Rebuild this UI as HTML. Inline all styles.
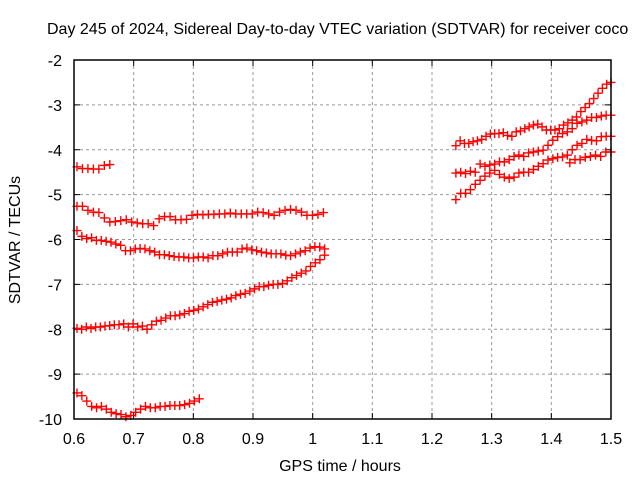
<!DOCTYPE html>
<html><head><meta charset="utf-8"><style>
body{margin:0;background:#fff;overflow:hidden;}
svg{display:block;font-family:"Liberation Sans",sans-serif;}
</style></head><body>
<svg id="chart" width="640" height="480" viewBox="0 0 640 480">
<rect width="640" height="480" fill="#fff"/>
<text x="47" y="34" font-size="16" text-anchor="start" fill="#000">Day 245 of 2024, Sidereal Day-to-day VTEC variation (SDTVAR) for receiver coco</text>
<g id="grid"></g>
<g id="ticks"></g>
<g id="series"></g>
<rect x="74" y="60" width="537" height="359" fill="none" stroke="#000" stroke-width="1.5"/>
<text x="340" y="471" font-size="16" text-anchor="middle">GPS time / hours</text>
<text transform="translate(20,240) rotate(-90)" font-size="16" text-anchor="middle">SDTVAR / TECUs</text>
</svg>
<script>
const xTicks=[0.6,0.7,0.8,0.9,1,1.1,1.2,1.3,1.4,1.5];
const xTickLabels=["0.6","0.7","0.8","0.9","1","1.1","1.2","1.3","1.4","1.5"];
const yTicks=[-2,-3,-4,-5,-6,-7,-8,-9,-10];
const yTickLabels=["-2","-3","-4","-5","-6","-7","-8","-9","-10"];
// series: start time, end time, values (evenly sampled)
const s1Start=0.605, s1End=0.66;
const s1=[-4.38,-4.42,-4.42,-4.43,-4.43,-4.35,-4.33];
const s2Start=0.605, s2End=1.018;
const s2=[-5.26,-5.26,-5.35,-5.39,-5.40,-5.52,-5.61,-5.60,-5.58,-5.56,-5.61,-5.63,-5.65,-5.65,-5.69,-5.54,-5.49,-5.49,-5.56,-5.56,-5.55,-5.46,-5.44,-5.45,-5.44,-5.44,-5.43,-5.43,-5.41,-5.43,-5.43,-5.43,-5.43,-5.39,-5.40,-5.43,-5.46,-5.39,-5.35,-5.33,-5.35,-5.39,-5.46,-5.46,-5.44,-5.40];
const s3Start=0.605, s3End=1.02;
const s3=[-5.80,-5.93,-5.98,-5.96,-6.02,-6.02,-6.04,-6.06,-6.10,-6.13,-6.25,-6.25,-6.21,-6.20,-6.21,-6.25,-6.28,-6.34,-6.34,-6.36,-6.38,-6.39,-6.39,-6.41,-6.41,-6.39,-6.39,-6.41,-6.36,-6.36,-6.32,-6.28,-6.28,-6.28,-6.21,-6.19,-6.23,-6.25,-6.28,-6.30,-6.32,-6.32,-6.32,-6.35,-6.36,-6.32,-6.28,-6.25,-6.19,-6.16,-6.17,-6.21];
const s4Start=0.605, s4End=1.02;
const s4=[-7.98,-8.0,-7.95,-7.98,-7.95,-7.95,-7.93,-7.92,-7.9,-7.9,-7.88,-7.95,-7.88,-7.95,-7.93,-8.0,-7.9,-7.82,-7.8,-7.75,-7.7,-7.7,-7.68,-7.65,-7.6,-7.58,-7.55,-7.5,-7.45,-7.4,-7.38,-7.35,-7.33,-7.3,-7.25,-7.22,-7.2,-7.15,-7.1,-7.05,-7.05,-7.02,-7.0,-7.0,-6.98,-6.92,-6.85,-6.8,-6.75,-6.7,-6.6,-6.52,-6.45,-6.35];
const s5Start=0.605, s5End=0.81;
const s5=[-9.42,-9.48,-9.6,-9.72,-9.75,-9.72,-9.78,-9.85,-9.88,-9.9,-9.95,-9.92,-9.85,-9.78,-9.72,-9.75,-9.75,-9.72,-9.72,-9.7,-9.7,-9.7,-9.68,-9.65,-9.6,-9.55];
const r1Start=1.24, r1End=1.5;
const r1=[-3.91,-3.80,-3.86,-3.86,-3.82,-3.80,-3.77,-3.70,-3.65,-3.64,-3.64,-3.62,-3.68,-3.70,-3.60,-3.58,-3.53,-3.49,-3.45,-3.43,-3.49,-3.56,-3.56,-3.56,-3.53,-3.45,-3.40,-3.34,-3.27,-3.15,-3.06,-2.97,-2.86,-2.74,-2.63,-2.54,-2.50];
const r2Start=1.24, r2End=1.5;
const r2=[-4.52,-4.50,-4.53,-4.48,-4.50,-4.32,-4.37,-4.34,-4.32,-4.27,-4.27,-4.22,-4.15,-4.12,-4.15,-4.07,-4.05,-4.03,-4.01,-3.90,-3.79,-3.71,-3.64,-3.60,-3.53,-3.41,-3.38,-3.34,-3.28,-3.28,-3.25,-3.23,-3.23];
const r3Start=1.24, r3End=1.5;
const r3=[-5.11,-4.97,-4.97,-4.89,-4.77,-4.68,-4.59,-4.52,-4.46,-4.55,-4.61,-4.64,-4.61,-4.52,-4.50,-4.50,-4.44,-4.37,-4.31,-4.23,-4.20,-4.17,-4.16,-4.12,-4.00,-3.90,-3.86,-3.77,-3.79,-3.80,-3.71,-3.70,-3.70];
const r4Start=1.431, r4End=1.5;
const r4=[-4.29,-4.22,-4.22,-4.17,-4.15,-4.12,-4.15,-4.05,-4.05];

const X0=74,X1=611,Y0=60,Y1=419;
function xs(v){return X0+(v-0.6)/0.9*(X1-X0);}
function ys(v){return Y0+(-2-v)/8*(Y1-Y0);}
const NS="http://www.w3.org/2000/svg";
function mk(tag,attrs,parent){const e=document.createElementNS(NS,tag);for(const k in attrs)e.setAttribute(k,attrs[k]);parent.appendChild(e);return e;}
const grid=document.getElementById('grid'),ticks=document.getElementById('ticks'),ser=document.getElementById('series');
xTicks.forEach((t,i)=>{
  const x=xs(t);
  if(i>0&&i<xTicks.length-1){const g=mk('line',{x1:x,x2:x,y1:Y0,y2:Y1,stroke:'#999','stroke-dasharray':'3,3'},grid);
  
  }
  mk('line',{x1:x,x2:x,y1:Y1,y2:Y1-6,stroke:'#000'},ticks);
  mk('line',{x1:x,x2:x,y1:Y0,y2:Y0+6,stroke:'#000'},ticks);
  const tx=mk('text',{x:x,y:444,'font-size':16,'text-anchor':'middle'},ticks);
  tx.textContent=xTickLabels[i];
  
  
});
yTicks.forEach((t,i)=>{
  const y=ys(t);
  if(i>0&&i<yTicks.length-1){const g=mk('line',{x1:X0,x2:X1,y1:y,y2:y,stroke:'#999','stroke-dasharray':'3,3'},grid);
  
  }
  mk('line',{x1:X0,x2:X0+6,y1:y,y2:y,stroke:'#000'},ticks);
  mk('line',{x1:X1,x2:X1-6,y1:y,y2:y,stroke:'#000'},ticks);
  const tx=mk('text',{x:62,y:y+6,'font-size':16,'text-anchor':'end'},ticks);
  tx.textContent=yTickLabels[i];
  
  
});
function draw(vals,start,end,name){
  const g=mk('g',{},ser);
  
  
  const n=vals.length;
  vals.forEach((v,i)=>{
    const t=start+(end-start)*(n>1?i/(n-1):0);
    const x=xs(t),y=ys(v);
    const p=mk('path',{d:`M${x-4.5},${y}H${x+4.5}M${x},${y-4.5}V${y+4.5}`,stroke:'#f00','stroke-width':1.4,fill:'none'},g);
    
    
  });
}
draw(s1,s1Start,s1End,'series-1');
draw(s2,s2Start,s2End,'series-2');
draw(s3,s3Start,s3End,'series-3');
draw(s4,s4Start,s4End,'series-4');
draw(s5,s5Start,s5End,'series-5');
draw(r1,r1Start,r1End,'series-6');
draw(r2,r2Start,r2End,'series-7');
draw(r3,r3Start,r3End,'series-8');
draw(r4,r4Start,r4End,'series-9');
</script>
</body></html>
